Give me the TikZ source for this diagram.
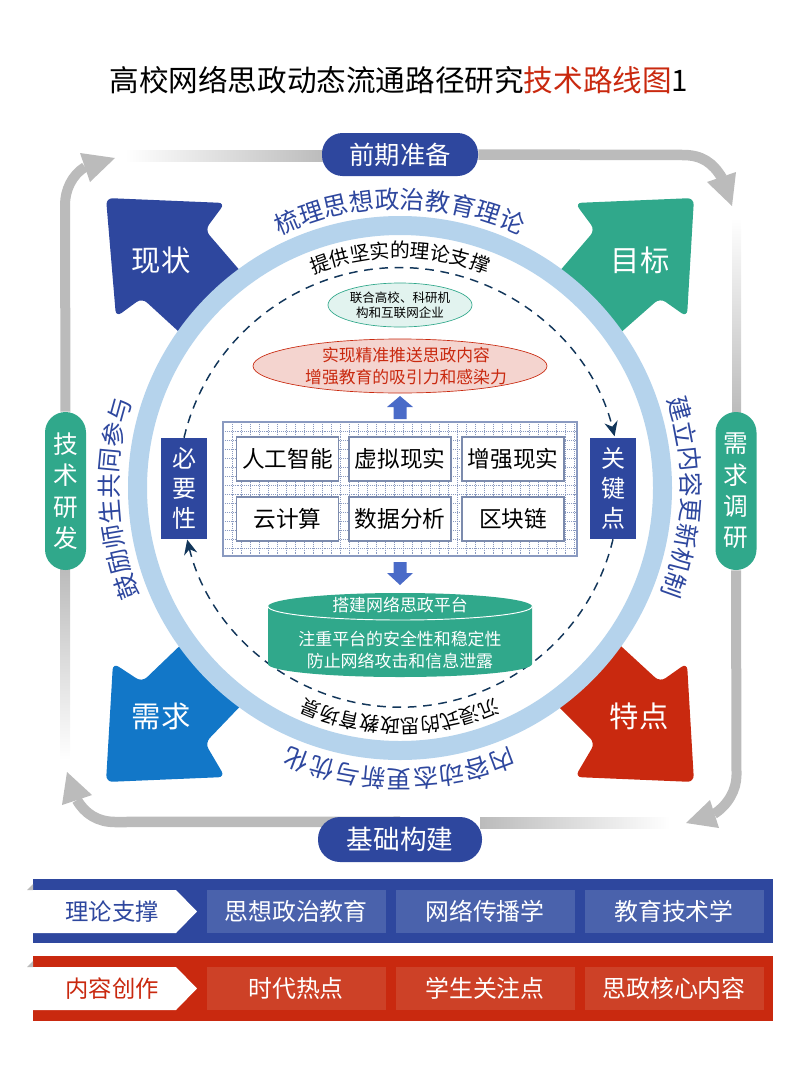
\documentclass[tikz,border=0pt]{standalone}
\usepackage{fontspec}
\setmainfont{Noto Sans CJK SC}
\usetikzlibrary{shapes.geometric,arrows.meta,calc,backgrounds}

\definecolor{navy}{HTML}{2E479E}
\definecolor{navycell}{HTML}{4A62AC}
\definecolor{teal}{HTML}{30A88B}
\definecolor{sky}{HTML}{1277C8}
\definecolor{brick}{HTML}{C9290F}
\definecolor{brickcell}{HTML}{CD4127}
\definecolor{ring}{HTML}{B5D3EC}
\definecolor{bargray}{HTML}{BBBBBB}
\definecolor{dashnavy}{HTML}{12365A}
\definecolor{gridblue}{HTML}{8A9AC0}
\definecolor{blockblue}{HTML}{4A6BC8}

\tikzset{
    pill/.style={rounded corners=20.5*0.75pt,fill=navy,text=white,inner sep=0pt,font=\fontsize{19}{23}\selectfont},
    sidepill/.style={pill,fill=teal,align=center,minimum width=41*0.75pt,minimum height=158*0.75pt,font=\fontsize{18.5}{23.5}\selectfont},
    corner/.style={rounded corners=5pt},
    cornerlabel/.style={text=white,font=\fontsize{22}{26}\selectfont},
    tech/.style={draw=gridblue!90!black,line width=1pt,fill=white,minimum width=102*0.75pt,minimum height=44*0.75pt,inner sep=0pt,font=\fontsize{17}{20}\selectfont},
    sidebox/.style={fill=navy,text=white,align=center,minimum width=46*0.75pt,minimum height=101*0.75pt,inner sep=0pt,font=\fontsize{18}{22.5}\selectfont},
    arcletter/.style={inner sep=0pt,font=\fontsize{18.5}{20}\selectfont,text=navy},
    arcsmall/.style={inner sep=0pt,font=\fontsize{14.8}{16}\selectfont,text=black},
    dasharc/.style={draw=dashnavy,line width=1.1pt,dashed,dash pattern=on 6.5pt off 5pt},
    cell/.style={minimum width=179*0.75pt,minimum height=43*0.75pt,inner sep=0pt,text=white,font=\fontsize{17.9}{21}\selectfont},
    tag/.style={inner sep=0pt,font=\fontsize{17.5}{21}\selectfont},
}

\begin{document}
\begin{tikzpicture}[x=0.75pt,y=-0.75pt]

    \def\cx{400}	 %centre of ring
    \def\cy{488}
    \def\u{0.75pt}	 %one pixel as a length
    \useasboundingbox (0,0) rectangle (800,1067);

    %TITLE
    \node[inner sep=0pt,font=\fontsize{22.2}{26}\selectfont] (title) at (399,80) {高校网络思政动态流通路径研究\textcolor{brick}{技术路线图}1};

    %OUTER FRAME, fading parts
    \fill[left color=white,right color=bargray] (125,150) rectangle (325,161);
    \fill[left color=bargray,right color=white] (480,817) rectangle (670,828);
    \fill[top color=white,bottom color=bargray] (732,218) rectangle (741,414);
    \fill[top color=bargray,bottom color=white] (60,568) rectangle (70,760);

    %PILLS
    \node[pill,minimum width=156*\u,minimum height=43*\u] (prep) at (400,154.5) {前期准备};
    \node[pill,minimum width=164*\u,minimum height=45*\u,rounded corners=22*\u,font=\fontsize{20}{24}\selectfont] (base) at (400,839.5) {基础构建};
    \node[sidepill] (dev) at (65.5,491) {技\\术\\研\\发};
    \node[sidepill] (survey) at (736,491) {需\\求\\调\\研};

    %OUTER FRAME, solid parts
    \begin{pgfonlayer}{background}
    \draw[bargray,line width=10.5*\u] (prep.east) -- (683,155) .. controls (702,155) and (713,163) .. (722,178);
    \fill[bargray] (736,172) -- (707,182) -- (732,206) -- cycle;
    \draw[bargray,line width=10*\u] (survey.south) -- (736.5,775) .. controls (736.5,790) and (728,805) .. (714,814);
    \fill[bargray] (710,800) -- (719,828) -- (686,823) -- cycle;
    \draw[bargray,line width=10.5*\u] ($(base.north)+(0,5)$) -- (115,822) .. controls (98,822) and (85,814) .. (77,800);
    \fill[bargray] (62,805) -- (92,795) -- (67,772) -- cycle;
    \draw[bargray,line width=10*\u] (dev.north) -- (65,205) .. controls (65,190) and (72,175) .. (85,167);
    \fill[bargray] (80,153) -- (90,182) -- (115,158) -- cycle;
    \end{pgfonlayer}

    %CORNER ARROWS, tails run under the ring
    \fill[navy,corner] (106,198) -- (225,203) -- (205,230) -- (248,280) -- (190,342) -- (142,298) -- (116,317) -- cycle;
    \fill[teal,corner] (694,198) -- (575,203) -- (595,230) -- (552,280) -- (610,342) -- (660,298) -- (687,317) -- cycle;
    \fill[sky,corner] (106,782) -- (225,777) -- (205,743) -- (250,696) -- (190,636) -- (142,682) -- (113,663) -- cycle;
    \fill[brick,corner] (694,782) -- (575,777) -- (595,743) -- (550,698) -- (610,636) -- (660,682) -- (687,663) -- cycle;
    \node[cornerlabel] (now) at (161,260) {现状};
    \node[cornerlabel] (goal) at (640,260) {目标};
    \node[cornerlabel] (need) at (161,716) {需求};
    \node[cornerlabel] (trait) at (639,716) {特点};

    %RING
    \coordinate (c) at (\cx,\cy);
    \draw[ring,fill=white,line width=19*\u] (c) circle[radius=262.5*\u];

    %ARC TEXTS: letters run clockwise with tops outward
    \foreach \ch [count=\i from 0] in {梳,理,思,想,政,治,教,育,理,论}{
        \pgfmathsetmacro\a{113-\i*5.1}
        \node[arcletter,rotate=\a-90] (top\i) at ({\cx+289*cos(\a)},{\cy-289*sin(\a)}) {\ch};
    } %end of top
    \foreach \ch [count=\i from 0] in {建,立,内,容,更,新,机,制}{
        \pgfmathsetmacro\a{15.8-\i*5.05}
        \node[arcletter,rotate=\a-90] (right\i) at ({\cx+291*cos(\a)},{\cy-291*sin(\a)}) {\ch};
    } %end of right
    \foreach \ch [count=\i from 0] in {内,容,动,态,更,新,与,优,化}{
        \pgfmathsetmacro\a{-69.5-\i*5.15}
        \node[arcletter,rotate=\a-90] (down\i) at ({\cx+291*cos(\a)},{\cy-291*sin(\a)}) {\ch};
    } %end of bottom
    \foreach \ch [count=\i from 0] in {鼓,励,师,生,共,同,参,与}{
        \pgfmathsetmacro\a{199.8-\i*5.05}
        \node[arcletter,rotate=\a-90] (left\i) at ({\cx+291*cos(\a)},{\cy-291*sin(\a)}) {\ch};
    } %end of left
    \foreach \ch [count=\i from 0] in {提,供,坚,实,的,理,论,支,撑}{
        \pgfmathsetmacro\a{109.6-\i*4.9}
        \node[arcsmall,rotate=\a-90] (up\i) at ({\cx+238*cos(\a)},{\cy-238*sin(\a)}) {\ch};
    } %end of inner top
    \foreach \ch [count=\i from 0] in {沉,浸,式,的,思,政,教,育,场,景}{
        \pgfmathsetmacro\a{-68.1-\i*4.87}
        \node[arcsmall,rotate=\a-90] (low\i) at ({\cx+238*cos(\a)},{\cy-238*sin(\a)}) {\ch};
    } %end of inner bottom

    %SIDE BOXES AND DASHED CIRCLE
    \node[sidebox] (nec) at (184,488.5) {必\\要\\性};
    \node[sidebox] (key) at (613,488.5) {关\\键\\点};
    \draw[dasharc,-{Stealth[length=11pt,width=10pt]}] (nec.north) arc[start angle=166.6,end angle=13.8,radius=221.5*\u];
    \draw[dasharc,-{Stealth[length=11pt,width=10pt]}] (key.south) arc[start angle=-13.5,end angle=-166.4,radius=219*\u];

    %ELLIPSES
    \node[ellipse,draw=teal,line width=0.5pt,fill=teal!14,minimum width=144*\u,minimum height=44*\u,inner sep=0pt,align=center,font=\fontsize{9.4}{11.6}\selectfont] (partner) at (400,305) {联合高校、科研机\\构和互联网企业};
    \node[ellipse,draw=brick,line width=0.5pt,fill=brick!20,minimum width=294*\u,minimum height=54*\u,inner sep=0pt] (push) at (400,366) {};
    \node[inner sep=0pt,align=center,text=brick,font=\fontsize{12.6}{16}\selectfont] (pushtext) at (406,366) {实现精准推送思政内容\\增强教育的吸引力和感染力};

    %TECH PANEL
    \fill[white] (223,422) rectangle (577,556);
    \foreach \x in {0,...,39}{
        \draw[gridblue,line width=0.45pt,densely dotted] (223+\x*9,422)--++(0,134);
    } %end of x loop
    \foreach \y in {0,...,14}{
        \draw[gridblue,line width=0.45pt,densely dotted] (223,422+\y*9)--++(354,0);
    } %end of y loop
    \node[draw=gridblue,line width=0.8pt,minimum width=354*\u,minimum height=134*\u,inner sep=0pt] (panel) at (400,489) {};
    \node[tech] (ai) at (287.5,459) {人工智能};
    \node[tech] (vr) at (400,459) {虚拟现实};
    \node[tech] (ar) at (513,459) {增强现实};
    \node[tech] (cloud) at (287.5,519) {云计算};
    \node[tech] (data) at (400,519) {数据分析};
    \node[tech] (chain) at (513,519) {区块链};

    %BLOCK ARROWS
    \fill[blockblue] (400,396) -- (413,407) -- (406.5,407) -- (406.5,419) -- (393.5,419) -- (393.5,407) -- (387,407) -- cycle;
    \fill[blockblue] (400,585) -- (413,573) -- (406.5,573) -- (406.5,562) -- (393.5,562) -- (393.5,573) -- (387,573) -- cycle;

    %PLATFORM DRUM
    \fill[teal] (268,606.5) arc[start angle=180,end angle=0,x radius=132*\u,y radius=13.5*\u] -- (532,664) arc[start angle=0,end angle=-180,x radius=132*\u,y radius=13*\u] -- cycle;
    \draw[white,line width=0.7pt] (268,606.5) arc[start angle=180,end angle=360,x radius=132*\u,y radius=13.5*\u];
    \node[inner sep=0pt,text=white,font=\fontsize{12.7}{15}\selectfont] (plat) at (400,605) {搭建网络思政平台};
    \node[inner sep=0pt,text=white,align=center,font=\fontsize{12.7}{17.2}\selectfont] (safe) at (400,650) {注重平台的安全性和稳定性\\防止网络攻击和信息泄露};

    %THEORY BAR
    \fill[navy] (33,879) rectangle (773,943);
    \fill[bargray] (27,890) -- (33,884) -- (33,890) -- cycle;
    \fill[white] (33,890) -- (176,890) -- (197,911.5) -- (176,933) -- (33,933) -- cycle;
    \node[tag,text=navy] (theory) at (112,912) {理论支撑};
    \node[cell,fill=navycell] (ideo) at (296,911.5) {思想政治教育};
    \node[cell,fill=navycell] (media) at (485,911.5) {网络传播学};
    \node[cell,fill=navycell] (edu) at (674,911.5) {教育技术学};

    %CONTENT BAR
    \fill[brick] (33,956) rectangle (773,1021);
    \fill[bargray] (27,967) -- (33,961) -- (33,967) -- cycle;
    \fill[white] (33,967) -- (176,967) -- (197,988.5) -- (176,1010) -- (33,1010) -- cycle;
    \node[tag,text=brick] (content) at (112,989) {内容创作};
    \node[cell,fill=brickcell] (hot) at (296,988.5) {时代热点};
    \node[cell,fill=brickcell] (focus) at (485,988.5) {学生关注点};
    \node[cell,fill=brickcell] (core) at (674,988.5) {思政核心内容};

\end{tikzpicture}
\end{document}
